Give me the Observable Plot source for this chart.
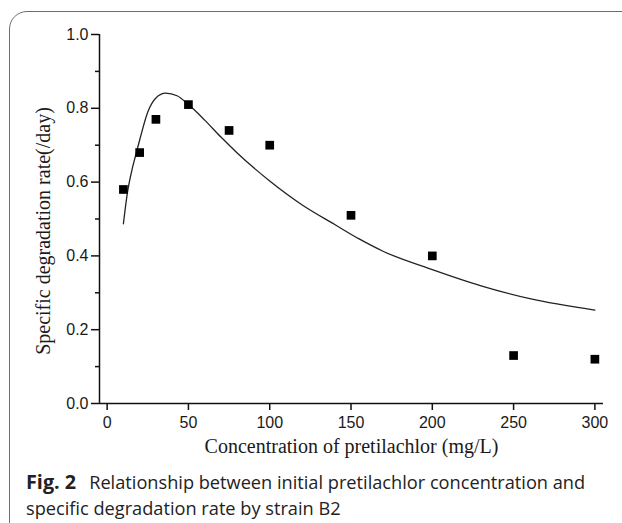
<!DOCTYPE html>
<html>
<head>
<meta charset="utf-8">
<script src="https://cdn.jsdelivr.net/npm/d3@7"></script>
<script src="https://cdn.jsdelivr.net/npm/@observablehq/plot@0.6"></script>
<style>
  html, body { margin: 0; padding: 0; background: #fff; width: 622px; height: 523px; overflow: hidden; }
  #wrap { position: relative; width: 622px; height: 523px; }
  #box { position: absolute; left: 9px; top: 11px; width: 1000px; height: 1000px;
         border: 1.5px solid #6e6e6e; border-radius: 18px; box-sizing: border-box; }
  #chart { position: absolute; left: 0; top: 0; }
  #caption { position: absolute; left: 26px; top: 469px; width: 590px;
             font-family: "Open Sans", "Noto Sans", sans-serif; font-size: 18.2px; line-height: 26px; color: #222; }
  #caption b { font-weight: 700; font-size: 19.8px; margin-right: 13px; }
</style>
</head>
<body>
<div id="wrap">
  <div id="box"></div>
  <div id="chart"></div>
  <div id="caption"><b>Fig. 2</b>Relationship between initial pretilachlor concentration and specific degradation rate by strain B2</div>
</div>
<script>
// Measured data (squares)
const concentration = [10, 20, 30, 50, 75, 100, 150, 200, 250, 300];
const rate = [0.58, 0.68, 0.77, 0.81, 0.74, 0.70, 0.51, 0.40, 0.13, 0.12];

// Fitted curve
const curveX = [10, 12.5, 15, 17.5, 20, 25, 30, 36, 43, 50, 60, 70, 80, 100, 120, 140, 155, 170, 200, 230, 260, 300];
const curveY = [0.487, 0.572, 0.628, 0.672, 0.714, 0.790, 0.828, 0.841, 0.834, 0.810, 0.768, 0.722, 0.679, 0.603, 0.538, 0.485, 0.446, 0.412, 0.363, 0.319, 0.284, 0.253];

const xTicks = [0, 50, 100, 150, 200, 250, 300];
const yTicks = [0, 0.2, 0.4, 0.6, 0.8, 1.0];
const yMinor = [0.1, 0.3, 0.5, 0.7, 0.9];

const xTitle = "Concentration of pretilachlor (mg/L)";
const yTitle = "Specific degradation rate(/day)";

const points = concentration.map((c, i) => ({x: c, y: rate[i]}));
const curve = curveX.map((c, i) => ({x: c, y: curveY[i]}));

const xMin = -4.7, xMax = 305.3;

const chart = Plot.plot({
  width: 622,
  height: 463,
  marginLeft: 99,
  marginRight: 19,
  marginTop: 34,
  marginBottom: 60,
  style: {fontFamily: "'Liberation Sans', Arial, sans-serif", fontSize: "16px", color: "#1a1a1a", background: "transparent"},
  x: {domain: [xMin, xMax]},
  y: {domain: [0, 1]},
  marks: [
    Plot.axisX(xTicks, {tickSize: 7, tickPadding: 6, strokeWidth: 1.5, stroke: "#111", fontSize: 16, label: null}),
    Plot.axisY(yTicks, {tickSize: 8, tickPadding: 3, strokeWidth: 1.5, stroke: "#111", fontSize: 16, tickFormat: d3.format(".1f"), label: null}),
    Plot.axisY(yMinor, {tickSize: 4, strokeWidth: 1.5, stroke: "#111", tickFormat: () => "", label: null}),
    Plot.ruleY([0], {stroke: "#111", strokeWidth: 1.5}),
    Plot.ruleX([xMin], {stroke: "#111", strokeWidth: 1.5}),
    Plot.line(curve, {x: "x", y: "y", curve: "monotone-x", stroke: "#222", strokeWidth: 1.3}),
    Plot.dot(points, {x: "x", y: "y", symbol: "square", r: 4.9, fill: "#000", stroke: "none"}),
    Plot.text([xTitle], {frameAnchor: "bottom", dy: 49, fontFamily: "'Liberation Serif', 'Times New Roman', serif", fontSize: 20, fill: "#1a1a1a"}),
    Plot.text([yTitle], {frameAnchor: "left", textAnchor: "middle", dx: -56, dy: 12, rotate: -90, fontFamily: "'Liberation Serif', 'Times New Roman', serif", fontSize: 20, fill: "#1a1a1a"})
  ]
});
document.getElementById("chart").appendChild(chart);
</script>
</body>
</html>
